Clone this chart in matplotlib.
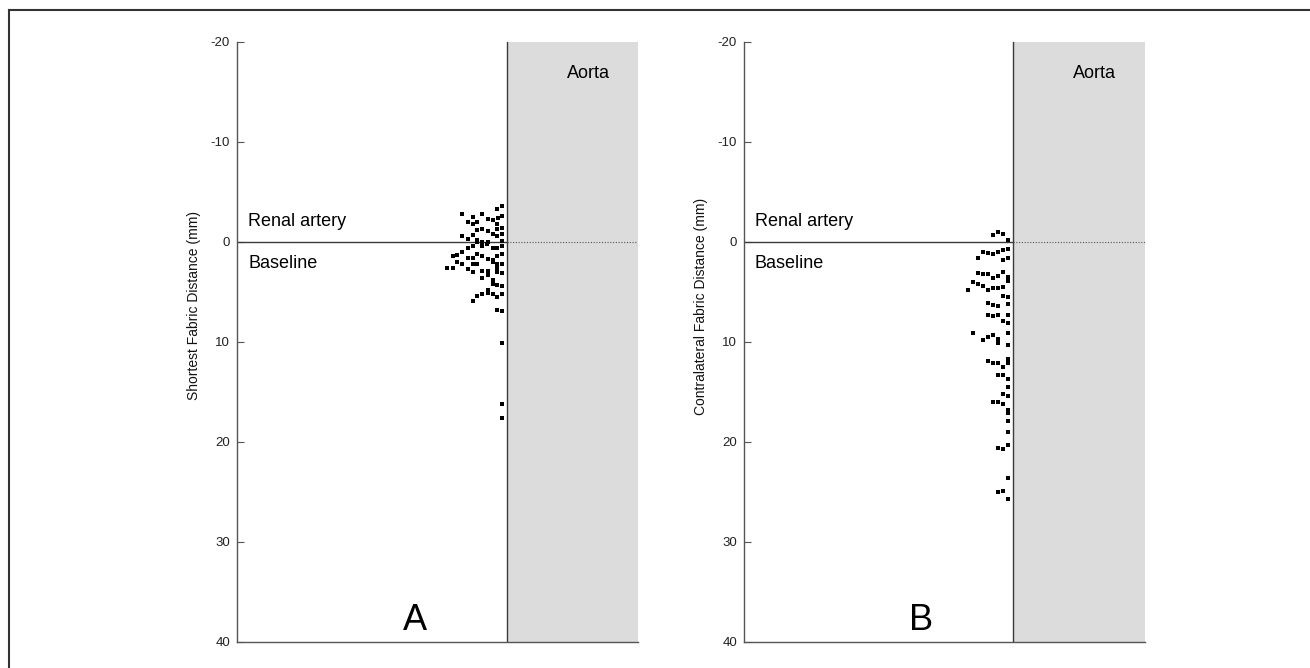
import matplotlib
matplotlib.use("Agg")
import matplotlib.pyplot as plt
from matplotlib.lines import Line2D

plt.rcParams["font.family"] = ["Liberation Sans", "DejaVu Sans"]
plt.rcParams["axes.unicode_minus"] = False

# lateral offset of each dot from the aortic wall (px-like units), and distance (mm)
a_x = [-5.0, -9.7, -45.0, -25.0, -34.3, -5.0, -9.0, -19.0, -14.3, -39.0,
       -29.7, -34.3, -10.3, -5.0, -9.7, -25.0, -29.7, -19.0, -14.3, -5.0,
       -9.7, -45.0, -34.3, -39.0, -29.7, -29.7, -25.0, -19.0, -19.7, -5.0,
       -34.3, -39.0, -25.0, -14.3, -9.7, -5.0, -45.0, -49.7, -54.3, -29.7,
       -25.0, -9.7, -5.0, -34.3, -39.0, -19.0, -14.3, -14.3, -49.7, -45.0,
       -59.7, -54.3, -34.3, -29.7, -9.7, -5.0, -39.0, -34.3, -9.7, -9.7,
       -25.0, -19.0, -19.0, -5.0, -25.0, -14.3, -14.3, -9.7, -5.0, -19.0,
       -19.0, -25.0, -29.7, -14.3, -9.7, -5.0, -34.3, -9.7, -5.0, -5.0,
       -5.0, -5.0]
a_y = [-3.63, -3.3, -2.77, -2.77, -2.5, -2.63, -2.37, -2.3, -2.17, -2.03,
       -2.03, -1.77, -1.83, -1.43, -1.3, -1.3, -1.23, -1.1, -0.83, -0.83,
       -0.57, -0.63, -0.7, -0.3, -0.23, -0.03, -0.03, -0.03, 0.17, -0.1,
       0.43, 0.63, 0.43, 0.57, 0.57, 0.43, 1.03, 1.3, 1.43, 1.17,
       1.37, 1.43, 1.23, 1.63, 1.63, 1.7, 1.83, 2.03, 2.03, 2.17,
       2.57, 2.57, 2.23, 2.23, 2.17, 2.23, 2.7, 3.03, 2.57, 2.97,
       2.9, 2.9, 3.3, 3.1, 3.63, 3.77, 4.17, 4.3, 4.37, 4.77,
       5.1, 5.17, 5.43, 5.23, 5.5, 5.23, 5.9, 6.83, 6.9, 10.1,
       16.2, 17.6]

b_x = [-15.3, -20.0, -10.0, -5.3,
       -5.3, -10.0, -15.3, -20.0, -25.3, -30.0, -35.3, -10.0, -5.3,
       -35.3, -30.0, -25.3, -10.0, -15.3, -20.0, -5.3, -5.3,
       -40.0, -35.3, -30.0, -45.3, -25.3, -20.0, -15.3, -10.0,
       -10.0, -5.3, -5.3, -25.3, -20.0, -15.3,
       -25.3, -20.0, -15.3, -5.3, -10.0, -5.3,
       -40.0, -5.3, -20.0, -25.3, -30.0, -15.3, -15.3, -5.3,
       -25.3, -20.0, -15.3, -5.3, -5.3, -5.3, -10.0,
       -15.3, -10.0, -5.3,
       -5.3,
       -10.0, -5.3,
       -20.0, -15.3, -10.0,
       -5.3, -5.3,
       -5.3,
       -5.3,
       -15.3, -10.0, -5.3,
       -5.3,
       -15.3, -10.0, -5.3]
b_y = [-0.97, -0.7, -0.77, -0.23,
       0.7, 0.77, 0.97, 1.17, 1.1, 1.03, 1.57, 1.77, 1.63,
       3.1, 3.23, 3.23, 3.03, 3.37, 3.63, 3.5, 3.9,
       3.97, 4.23, 4.37, 4.77, 4.77, 4.57, 4.63, 4.5,
       5.37, 5.5, 6.17, 6.1, 6.3, 6.43,
       7.3, 7.43, 7.3, 7.3, 7.9, 8.1,
       9.13, 9.13, 9.27, 9.47, 9.8, 9.73, 10.13, 10.27,
       11.93, 12.13, 12.13, 11.73, 11.93, 12.13, 12.53,
       13.33, 13.33, 13.67,
       14.47,
       15.2, 15.4,
       16.0, 16.0, 16.2,
       16.8, 17.07,
       17.93,
       18.97,
       20.63, 20.7, 20.3,
       23.63,
       25.03, 24.9, 25.7]

y_ticks = [-20, -10, 0, 10, 20, 30, 40]


def draw_panel(ax, xs, ys, ylabel, letter, x_left, x_right):
    ax.axvspan(0, x_right, color="#dcdcdc", lw=0, zorder=0)
    ax.axvline(0, color="#3a3a3a", lw=1.0, zorder=2)
    ax.plot([x_left, 0], [0, 0], color="#3a3a3a", lw=1.0, zorder=2)
    ax.plot([0, x_right], [0, 0], color="#555555", lw=0.8, ls=(0, (1, 1.5)), zorder=2)
    ax.scatter(xs, ys, s=5.5, marker="s", color="black", lw=0, zorder=3)

    ax.set_xlim(x_left, x_right)
    ax.set_ylim(40, -20)
    ax.set_yticks(y_ticks)
    ax.set_xticks([])
    ax.tick_params(axis="y", direction="in", length=5, width=0.8,
                   colors="#555555", labelcolor="#222222", labelsize=9.5, pad=5)
    for side in ("top", "right"):
        ax.spines[side].set_visible(False)
    for side in ("left", "bottom"):
        ax.spines[side].set_color("#555555")
        ax.spines[side].set_linewidth(1.0)
    ax.set_ylabel(ylabel, fontsize=10, color="#111111")
    ax.yaxis.set_label_coords(-0.09, 0.56)

    ax.text(x_left + 11, -2.0, "Renal artery", fontsize=13, va="center", ha="left")
    ax.text(x_left + 11, 2.1, "Baseline", fontsize=13, va="center", ha="left")
    ax.text(81, -16.9, "Aorta", fontsize=13, va="center", ha="center")
    ax.text(-92, 37.9, letter, fontsize=26, va="center", ha="center")


fig = plt.figure(figsize=(13.1, 6.68), dpi=100)
ax_a = fig.add_axes([237 / 1310, 26 / 668, 401 / 1310, 600 / 668])
ax_b = fig.add_axes([744 / 1310, 26 / 668, 401 / 1310, 600 / 668])

draw_panel(ax_a, a_x, a_y, "Shortest Fabric Distance (mm)", "A", -270, 131)
draw_panel(ax_b, b_x, b_y, "Contralateral Fabric Distance (mm)", "B", -269, 132)

# outer frame (top and left edges)
fig.add_artist(Line2D([9 / 1310, 9 / 1310], [0, 1 - 10 / 668],
                      transform=fig.transFigure, color="#333333", lw=1.5))
fig.add_artist(Line2D([9 / 1310, 1], [1 - 10 / 668, 1 - 10 / 668],
                      transform=fig.transFigure, color="#333333", lw=1.5))

fig.savefig("out.png", dpi=100)
